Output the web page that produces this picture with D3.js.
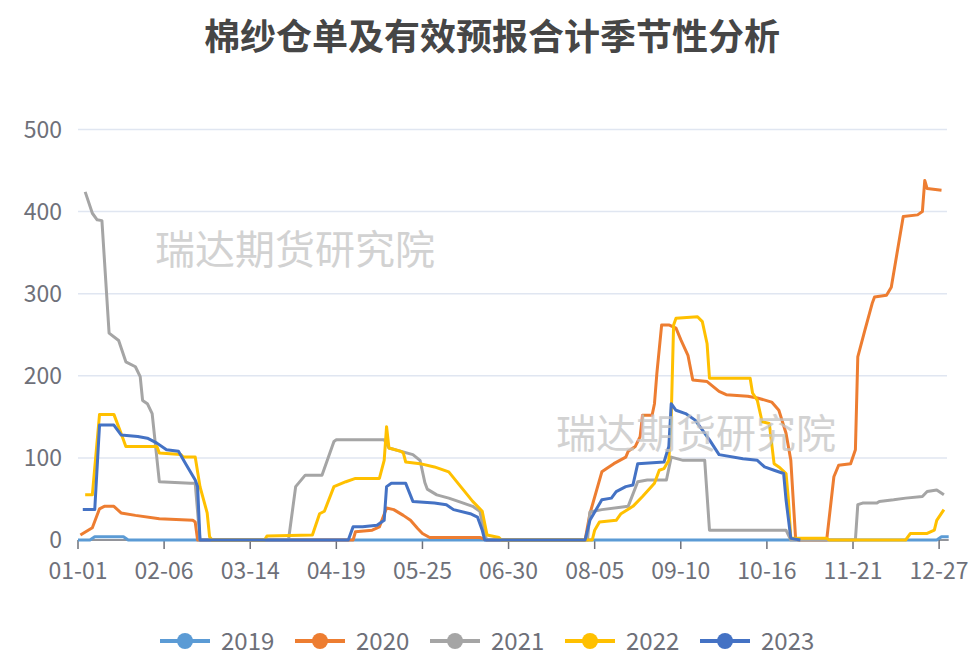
<!DOCTYPE html>
<html>
<head>
<meta charset="utf-8">
<script src="https://cdn.jsdelivr.net/npm/d3@7"></script>
<style>
  body { margin: 0; background: #fff; }
  svg { font-family: "Noto Sans CJK SC", "Noto Sans", sans-serif; }
</style>
</head>
<body>
<svg id="chart" width="971" height="657"></svg>
<script>
const title = "棉纱仓单及有效预报合计季节性分析";
const watermark = "瑞达期货研究院";
const yTicks = [0, 100, 200, 300, 400, 500];
const xTickLabels = ["01-01", "02-06", "03-14", "04-19", "05-25", "06-30", "08-05", "09-10", "10-16", "11-21", "12-27"];
const years = ["2019", "2020", "2021", "2022", "2023"];
const colors = ["#5b9bd5", "#ed7d31", "#a5a5a5", "#ffc000", "#4472c4"];

// [date, value] vertices
const s2019 = [["01-01",0],["01-06",0],["01-08",4],["01-20",4],["01-22",0],["12-26",0],["12-28",4],["12-31",4]];
const s2020 = [["01-02",6],["01-07",15],["01-10",38],["01-12",41],["01-16",41],["01-19",33],["01-25",30],["02-04",26],
  ["02-18",24],["02-19",22],["02-20",0],["04-26",0],["04-27",10],["05-04",12],["05-07",16],["05-10",39],["05-13",37],
  ["05-17",30],["05-20",24],["05-23",14],["05-25",8],["05-28",3],["06-18",3],["06-21",0],["08-01",0],["08-03",32],
  ["08-08",83],["08-10",87],["08-13",93],["08-18",101],["08-19",108],["08-22",114],["08-24",126],["08-25",152],
  ["08-29",152],["08-30",166],["08-31",203],["09-02",262],["09-05",262],["09-08",258],["09-10",244],["09-13",225],
  ["09-15",195],["09-21",193],["09-26",181],["09-29",177],["10-08",175],["10-12",173],["10-18",168],["10-21",158],
  ["10-24",130],["10-26",97],["10-27",49],["10-28",2],["10-29",0],["11-10",0],["11-13",77],["11-15",91],["11-20",93],
  ["11-22",110],["11-23",223],["11-26",256],["11-29",288],["11-30",296],["12-05",298],["12-07",308],["12-12",394],
  ["12-18",396],["12-20",400],["12-21",438],["12-22",428],["12-28",426]];
const s2021 = [["01-04",424],["01-07",398],["01-09",390],["01-11",389],["01-14",252],["01-18",243],["01-21",217],
  ["01-25",211],["01-27",199],["01-28",170],["01-30",166],["02-01",154],["02-04",71],["02-17",69],["02-19",69],
  ["02-21",0],["03-30",0],["04-02",65],["04-06",79],["04-13",79],["04-18",120],["04-19",122],["05-09",122],
  ["05-11",112],["05-21",104],["05-24",97],["05-26",70],["05-27",62],["05-31",55],["06-05",51],["06-09",47],
  ["06-15",41],["06-18",35],["06-20",6],["06-21",0],["08-02",0],["08-03",34],["08-08",37],["08-19",41],["08-23",71],
  ["08-27",73],["09-04",73],["09-06",101],["09-11",97],["09-20",97],["09-22",12],["10-24",12],["10-26",0],
  ["11-22",0],["11-23",43],["11-25",45],["12-01",45],["12-02",47],["12-08",49],["12-13",51],["12-20",53],
  ["12-22",59],["12-26",61],["12-29",55]];
const s2022 = [["01-04",55],["01-07",55],["01-10",153],["01-16",153],["01-19",130],["01-21",114],["02-03",114],
  ["02-04",106],["02-13",104],["02-14",101],["02-19",101],["02-21",65],["02-24",33],["02-25",4],["02-26",0],
  ["03-20",0],["03-21",5],["04-09",6],["04-12",32],["04-14",35],["04-18",65],["04-23",71],["04-27",75],["05-07",75],
  ["05-09",97],["05-10",138],["05-11",112],["05-16",108],["05-17",106],["05-18",95],["05-24",93],["05-30",89],
  ["06-05",83],["06-10",65],["06-15",47],["06-19",35],["06-21",6],["06-26",3],["06-27",0],["08-04",0],["08-05",12],
  ["08-07",22],["08-14",24],["08-16",32],["08-21",41],["08-25",53],["08-30",69],["09-01",85],["09-03",87],
  ["09-05",97],["09-06",150],["09-07",262],["09-08",270],["09-17",272],["09-19",266],["09-21",239],["09-22",197],
  ["10-09",197],["10-10",179],["10-12",170],["10-14",144],["10-17",142],["10-19",93],["10-21",89],["10-24",81],
  ["10-25",49],["10-26",2],["11-10",2],["11-11",0],["12-13",0],["12-15",8],["12-22",8],["12-25",12],["12-26",24],
  ["12-29",37]];
const s2023 = [["01-03",37],["01-08",37],["01-10",140],["01-16",140],["01-19",128],["01-26",126],["01-30",124],
  ["02-03",118],["02-07",110],["02-12",108],["02-15",93],["02-19",73],["02-20",65],["02-21",0],["04-24",0],
  ["04-26",16],["04-30",16],["05-06",18],["05-09",24],["05-10",65],["05-12",69],["05-18",69],["05-21",47],
  ["05-30",45],["06-04",43],["06-07",37],["06-14",32],["06-17",28],["06-19",12],["06-20",0],["08-01",0],
  ["08-03",24],["08-08",49],["08-12",51],["08-14",59],["08-18",65],["08-21",67],["08-23",93],["09-03",95],
  ["09-05",114],["09-06",166],["09-08",158],["09-12",154],["09-16",146],["09-18",138],["09-22",122],["09-26",104],
  ["10-06",99],["10-12",97],["10-15",89],["10-19",85],["10-23",81],["10-24",49],["10-26",2],["10-30",0]];
const seriesData = [s2019, s2020, s2021, s2022, s2023];

const svg = d3.select("#chart");
const parse = d3.timeParse("%Y-%m-%d");
const jan1 = parse("2021-01-01");
const dayIndex = s => d3.timeDay.count(jan1, parse("2021-" + s));

const x = d3.scaleLinear().domain([0, 364]).range([78, 78 + 364 * 2.392]);
const y = d3.scaleLinear().domain([0, 500]).range([540, 129.5]);

// title
svg.append("text")
  .attr("x", 492).attr("y", 50)
  .attr("text-anchor", "middle")
  .style("font-size", "36px").style("font-weight", "bold")
  .style("fill", "#464646")
  .text(title);

// grid lines + y labels
const grid = svg.append("g");
grid.selectAll("line").data(yTicks.filter(d => d > 0)).join("line")
  .attr("x1", 78).attr("x2", 947)
  .attr("y1", d => y(d)).attr("y2", d => y(d))
  .attr("stroke", "#e0e6f1").attr("stroke-width", 1.5);
grid.selectAll("text").data(yTicks).join("text")
  .attr("x", 62).attr("y", d => y(d))
  .attr("dy", "0.36em")
  .attr("text-anchor", "end")
  .style("font-size", "23px").style("fill", "#6e7079")
  .text(d => d);

// x axis
const xAxis = svg.append("g");
xAxis.append("line")
  .attr("x1", 78).attr("x2", x(364))
  .attr("y1", 540).attr("y2", 540)
  .attr("stroke", "#6e7079").attr("stroke-width", 1.5);
xAxis.selectAll("line.tick").data(xTickLabels).join("line")
  .attr("class", "tick")
  .attr("x1", d => x(dayIndex(d))).attr("x2", d => x(dayIndex(d)))
  .attr("y1", 540).attr("y2", 549)
  .attr("stroke", "#6e7079").attr("stroke-width", 1.5);
xAxis.selectAll("text").data(xTickLabels).join("text")
  .attr("x", d => x(dayIndex(d))).attr("y", 579)
  .attr("text-anchor", "middle")
  .style("font-size", "23px").style("fill", "#6e7079")
  .text(d => d);

// lines
const line = d3.line()
  .x(d => x(dayIndex(d[0])))
  .y(d => y(d[1]));
svg.append("g").selectAll("path").data(seriesData).join("path")
  .attr("d", d => line(d))
  .attr("fill", "none")
  .attr("stroke", (d, i) => colors[i])
  .attr("stroke-width", 3)
  .attr("stroke-linejoin", "round");

// watermarks
svg.append("text").attr("x", 155).attr("y", 264)
  .style("font-size", "40px").style("fill", "#c4c4c4").style("opacity", 0.75)
  .text(watermark);
svg.append("text").attr("x", 556).attr("y", 448)
  .style("font-size", "40px").style("fill", "#c4c4c4").style("opacity", 0.75)
  .text(watermark);

// legend
const legend = svg.append("g").attr("transform", "translate(160,641)");
const item = legend.selectAll("g").data(years).join("g")
  .attr("transform", (d, i) => "translate(" + (i * 135) + ",0)");
item.append("line")
  .attr("x1", 0).attr("x2", 50).attr("y1", 0).attr("y2", 0)
  .attr("stroke", (d, i) => colors[i]).attr("stroke-width", 4);
item.append("circle")
  .attr("cx", 25).attr("cy", 0).attr("r", 8)
  .attr("fill", (d, i) => colors[i]);
item.append("text")
  .attr("x", 61).attr("y", 0).attr("dy", "0.36em")
  .style("font-size", "24px").style("fill", "#6e7079")
  .text(d => d);
</script>
</body>
</html>
